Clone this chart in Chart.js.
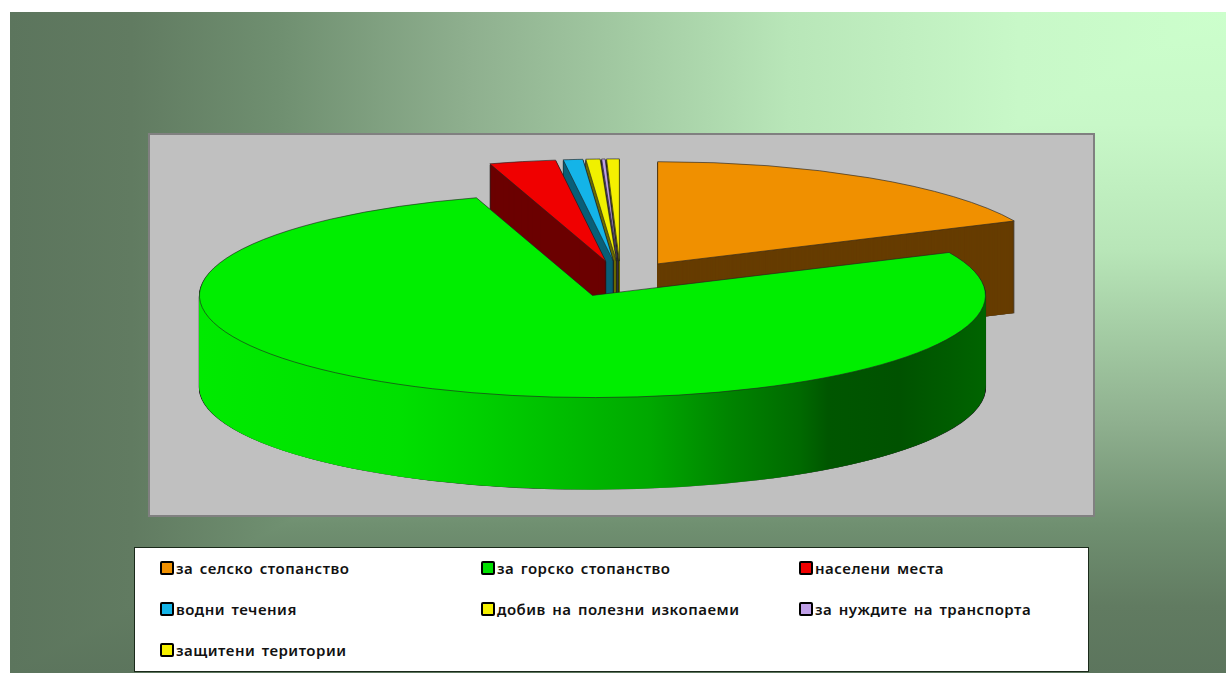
<!DOCTYPE html>
<html>
<head>
<meta charset="utf-8">
<title>Земеделски земи</title>
<script src="https://cdn.jsdelivr.net/npm/chart.js@4"></script>
<style>
  html, body { margin: 0; padding: 0; background: #fff; overflow: hidden; }
  #page {
    position: relative; width: 1226px; height: 673px;
    --shade: #ccffcc 0%, #c8f8c8 17%, #b8e6b8 36%, #a3cba3 49%, #8fb08f 62%, #6f8f70 78%, #617b61 90%, #5c755d 100%;
  }
  .bg { position: absolute; left: 10px; top: 12px; width: 1216px; height: 661px; }
  #bgRight { background: linear-gradient(to bottom, var(--shade)); }
  #bgTop { background: linear-gradient(to left, var(--shade)); clip-path: polygon(0 0, 100% 0, 0 100%); }
  #plotBox { position: absolute; left: 148px; top: 133px; width: 943px; height: 380px; background: #c0c0c0; border: 2px solid #808080; filter: blur(0.4px); }
  canvas { position: absolute; left: 0; top: 0; }
  #legendBox { position: absolute; left: 134px; top: 547px; width: 953px; height: 123px; background: #fff; border: 1px solid #1a2a1a; }
  .item { position: absolute; height: 16px; display: flex; align-items: center; font: 600 15px "Noto Sans", sans-serif; color: #111; white-space: nowrap; letter-spacing: 0.5px; word-spacing: 2px; }
  .swatch { width: 10px; height: 10px; border: 2px solid #000; border-radius: 2px; margin-right: 2px; }
</style>
</head>
<body>
<div id="page">
  <div class="bg" id="bgRight"></div>
  <div class="bg" id="bgTop"></div>
  <div id="plotBox"></div>
  <canvas id="pieChart" width="1226" height="673"></canvas>
  <div id="legendBox"></div>
</div>
<script>
const categories = [
  "за селско стопанство",
  "за горско стопанство",
  "населени места",
  "водни течения",
  "добив на полезни изкопаеми",
  "за нуждите на транспорта",
  "защитени територии",
]
const shares = [18.1, 77.13, 2.73, 0.8, 0.58, 0.14, 0.52]
const topColors = ["#f09000", "#00ee00", "#f00000", "#14b4e8", "#f0f000", "#c0a0e8", "#f5f000"]
const wallColors = ["#663c00", "#00a000", "#6b0000", "#0a5f78", "#6b6b00", "#50406a", "#6b6b00"]
const legendColors = ["#f09000", "#00e000", "#f00000", "#14b4e8", "#f5f000", "#c0a0e8", "#f5f000"]
// shading of the big green wall, left to right
const greenWall = ["#00ea00", "#00e000", "#00d000", "#00c000", "#00a800", "#008400", "#006a00", "#005600", "#005200", "#006400"]
const greenWallStops = [0, 0.254, 0.356, 0.445, 0.573, 0.674, 0.763, 0.8, 0.89, 1]

const tilt = 0.26
const depth = 92
const explode = 69
// back to front
const drawOrder = [0, 6, 5, 4, 3, 2, 1]

function arcOptions(fill, stroke, width) {
  return {
    backgroundColor: fill,
    borderColor: stroke,
    borderWidth: width,
    borderAlign: "center",
    borderJoinStyle: "miter",
    borderRadius: 0,
    offset: 0,
    spacing: 0,
    circular: true,
  }
}

const tiltedPie = {
  id: "tiltedPie",
  beforeDatasetsDraw(chart) {
    const ctx = chart.ctx
    const arcs = chart.getDatasetMeta(0).data

    drawOrder.forEach((i) => {
      const arc = arcs[i]
      const original = arc.options
      const mid = (arc.startAngle + arc.endAngle) / 2
      const dx = Math.cos(mid) * explode
      const dy = Math.sin(mid) * explode * tilt

      const put = (down) => {
        ctx.save()
        ctx.translate(arc.x + dx, arc.y + dy + down)
        ctx.scale(1, tilt)
        ctx.translate(-arc.x, -arc.y)
        arc.draw(ctx)
        ctx.restore()
      }

      let wall = wallColors[i]
      if (i === 1) {
        wall = ctx.createLinearGradient(arc.x - arc.outerRadius, 0, arc.x + arc.outerRadius, 0)
        greenWall.forEach((c, n) => wall.addColorStop(greenWallStops[n], c))
      }

      // stroked stack first, the filled stack leaves only the outline of it
      arc.options = arcOptions(wall, "#1c1c1c", 1.2)
      for (let d = depth; d > 0; d--) put(d)
      arc.options = arcOptions(wall, wall, 0)
      for (let d = depth; d > 0; d--) put(d)
      arc.options = arcOptions(topColors[i], "#222", 1)
      put(0)
      arc.options = original
    })
    return false
  },
}

new Chart(document.getElementById("pieChart"), {
  type: "pie",
  data: {
    labels: categories,
    datasets: [{ data: shares, backgroundColor: topColors }],
  },
  options: {
    responsive: false,
    animation: false,
    radius: 393,
    layout: { padding: { left: 15, bottom: 115 } },
    plugins: { legend: { display: false }, tooltip: { enabled: false } },
  },
  plugins: [tiltedPie],
})

// legend is three fixed columns, the built-in one can't do that
const legendBox = document.getElementById("legendBox")
const columnX = [25, 346, 664]
const rowY = [12, 53, 94]
categories.forEach((name, i) => {
  const item = document.createElement("div")
  item.className = "item"
  item.style.left = columnX[i % 3] + "px"
  item.style.top = rowY[Math.floor(i / 3)] + "px"
  const swatch = document.createElement("span")
  swatch.className = "swatch"
  swatch.style.background = legendColors[i]
  item.appendChild(swatch)
  item.appendChild(document.createTextNode(name))
  legendBox.appendChild(item)
})
</script>
</body>
</html>
